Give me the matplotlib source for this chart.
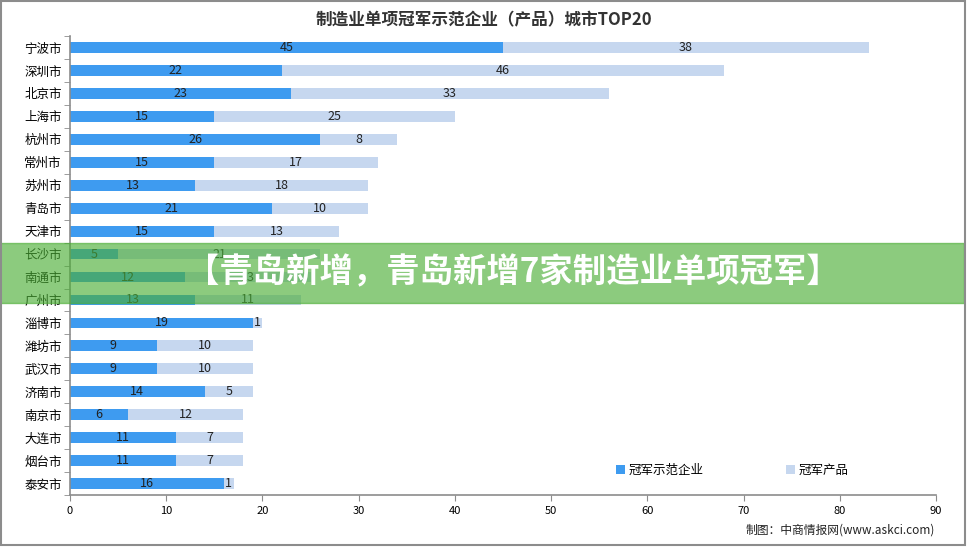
import matplotlib
matplotlib.use("Agg")
from matplotlib import pyplot as plt
from matplotlib.patches import Rectangle
import numpy as np

plt.rcParams['font.family'] = ['Noto Sans CJK SC', 'DejaVu Sans']

# data
cities = ["宁波市", "深圳市", "北京市", "上海市", "杭州市", "常州市", "苏州市",
          "青岛市", "天津市", "长沙市", "南通市", "广州市", "淄博市", "潍坊市",
          "武汉市", "济南市", "南京市", "大连市", "烟台市", "泰安市"]
firms = [45, 22, 23, 15, 26, 15, 13, 21, 15, 5, 12, 13, 19, 9, 9, 14, 6, 11, 11, 16]
products = [38, 46, 33, 25, 8, 17, 18, 10, 13, 21, 13, 11, 1, 10, 10, 5, 12, 7, 7, 1]

title = "制造业单项冠军示范企业（产品）城市TOP20"
banner = "【青岛新增，青岛新增7家制造业单项冠军】"
source = "制图：中商情报网(www.askci.com)"

blue = "#3e9bf0"
light = "#c6d7ef"
axis_gray = "#8c8c8c"

fig = plt.figure(figsize=(9.67, 5.47), dpi=100)
ax = fig.add_axes([0.0724, 0.095, 0.8956, 0.839])

y = np.arange(len(cities))
ax.barh(y, firms, height=0.47, color=blue, label="冠军示范企业")
ax.barh(y, products, left=firms, height=0.47, color=light, label="冠军产品")

for i in range(len(cities)):
    ax.text(firms[i] / 2, i, str(firms[i]), ha="center", va="center",
            fontsize=9, color="#222222")
    ax.text(firms[i] + products[i] / 2, i, str(products[i]), ha="center",
            va="center", fontsize=9, color="#222222")

ax.set_ylim(19.5, -0.5)
ax.set_xlim(0, 90)
ax.set_xticks(range(0, 91, 10))
ax.set_yticks(y)
ax.set_yticklabels(cities, fontsize=9)
ax.set_yticks(np.arange(-0.5, 20, 1), minor=True)
ax.tick_params(axis="y", which="major", length=0, pad=6)
ax.tick_params(axis="y", which="minor", length=4, color=axis_gray)
ax.tick_params(axis="x", length=4, color=axis_gray, labelsize=8, pad=4)

for side in ["top", "right"]:
    ax.spines[side].set_visible(False)
for side in ["left", "bottom"]:
    ax.spines[side].set_color(axis_gray)
    ax.spines[side].set_linewidth(1.2)

fig.text(0.5, 0.963, title, ha="center", va="center", fontsize=12,
         fontweight="bold", color="#333333")

leg = ax.legend(loc="center", bbox_to_anchor=(0.765, 0.053), ncol=2,
                frameon=False, fontsize=9, handlelength=0.7, handleheight=0.7,
                handletextpad=0.3, columnspacing=6.6)

fig.text(0.967, 0.031, source, ha="right", va="center", fontsize=8.5,
         color="#222222")

# green banner laid over the chart
fig.patches.append(Rectangle((0, 1 - 303 / 547), 964 / 967, 60 / 547,
                             transform=fig.transFigure, color="#4bae35",
                             alpha=0.64, zorder=10))
fig.text(186 / 967, 1 - 273 / 547, banner, ha="left", va="center",
         fontsize=24, fontweight="heavy", color="white", zorder=11)

# thin frame round the picture
fig.patches.append(Rectangle((0.001, 0.003), 0.997, 0.995,
                             transform=fig.transFigure, fill=False,
                             edgecolor="#8c8c8c", linewidth=1.5, zorder=12))

plt.savefig("out.png", dpi=100)
